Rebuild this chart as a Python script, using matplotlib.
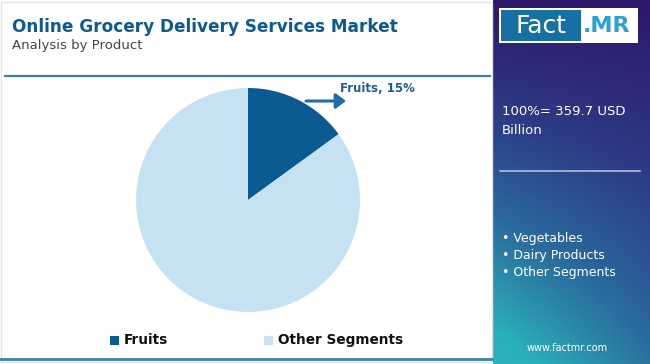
import numpy as np
import matplotlib

matplotlib.use("Agg")
import matplotlib.pyplot as plt  # noqa: E402
from matplotlib.colors import LinearSegmentedColormap  # noqa: E402
from matplotlib.patches import Rectangle, FancyArrowPatch  # noqa: E402

W, H = 650, 364

segments = ["Fruits", "Other Segments"]
shares = [15, 85]
colors = ["#0b5a92", "#c6e1f1"]
total_label = ["100%= 359.7 USD", "Billion"]
other_items = ["Vegetables", "Dairy Products", "Other Segments"]

TITLE = "Online Grocery Delivery Services Market"
SUBTITLE = "Analysis by Product"


def fx(x):
    return x / W


def fy(y):
    return 1 - y / H


fig = plt.figure(figsize=(W / 100, H / 100), dpi=100)
fig.patch.set_facecolor("white")

# right gradient panel
gax = fig.add_axes([fx(493), 0, 1 - fx(493), 1])
gx, gy = np.meshgrid(np.linspace(0, 1, 100), np.linspace(0, 1, 200))
t = np.clip(0.7 * gy + 0.4 * (1 - gx) * gy, 0, 1)
cmap = LinearSegmentedColormap.from_list(
    "fm", ["#2d186a", "#2d3a85", "#2a6c9e", "#2bb0ba"]
)
gax.imshow(t, cmap=cmap, aspect="auto", extent=[0, 1, 1, 0], vmin=0, vmax=1)
gax.set_xlim(0, 1)
gax.set_ylim(1, 0)
gax.axis("off")

# light frame of the left area
fig.add_artist(Rectangle((fx(1), fy(362)), fx(491), fy(2) - fy(362),
                         transform=fig.transFigure, fill=False,
                         edgecolor="#e4e4e4", lw=1))

fig.text(fx(12), fy(27), TITLE, fontsize=12.2, fontweight="bold",
         color="#0d5a8f", va="center", ha="left")
fig.text(fx(12), fy(46), SUBTITLE, fontsize=9.5, color="#444444",
         va="center", ha="left")

# separator lines
fig.add_artist(plt.Line2D([fx(5), fx(490)], [fy(76), fy(76)],
                          transform=fig.transFigure, color="#3b7fb5", lw=1.6))
fig.add_artist(plt.Line2D([fx(0), fx(492)], [fy(359), fy(359)],
                          transform=fig.transFigure, color="#3b7fb5", lw=2))

# pie
pax = fig.add_axes([fx(136), fy(312), fx(224), fy(88) - fy(312)])
pax.pie(shares, colors=colors, startangle=90, counterclock=False,
        wedgeprops=dict(linewidth=0))
pax.set_xlim(-1, 1)
pax.set_ylim(-1, 1)
pax.set_aspect("equal")
pax.axis("off")

fig.add_artist(FancyArrowPatch(
    (fx(306), fy(101)), (fx(346), fy(101)), transform=fig.transFigure,
    arrowstyle="-|>,head_length=6,head_width=4.5", color="#1f6ea8", lw=2.2,
    mutation_scale=1, shrinkA=0, shrinkB=0))
fig.text(fx(340), fy(89), f"{segments[0]}, {shares[0]}%", fontsize=8.5,
         fontweight="bold", color="#1d5d94", va="center", ha="left")

# legend
for (lx, name, c) in zip([110, 264], segments, colors):
    fig.add_artist(Rectangle((fx(lx), fy(345)), fx(9), fy(336) - fy(345),
                             transform=fig.transFigure, color=c, lw=0))
    fig.text(fx(lx + 14), fy(340), name, fontsize=9.8, fontweight="bold",
             color="#111111", va="center", ha="left")

# logo
fig.add_artist(Rectangle((fx(499), fy(43)), fx(139), fy(8) - fy(43),
                         transform=fig.transFigure, color="white", lw=0))
fig.add_artist(Rectangle((fx(501), fy(41)), fx(80), fy(10) - fy(41),
                         transform=fig.transFigure, color="#1670a3", lw=0))
fig.text(fx(541), fy(26), "Fact", fontsize=18, color="white",
         va="center", ha="center")
fig.text(fx(583), fy(26), ".MR", fontsize=16, fontweight="bold",
         color="#2aa1d3", va="center", ha="left")

fig.text(fx(502), fy(115), total_label[0], fontsize=9.5, color="white",
         va="baseline", ha="left")
fig.text(fx(502), fy(134), total_label[1], fontsize=9.5, color="white",
         va="baseline", ha="left")
fig.add_artist(plt.Line2D([fx(500), fx(640)], [fy(171), fy(171)],
                          transform=fig.transFigure, color="#b9b9d6", lw=1.2))
for i, item in enumerate(other_items):
    fig.text(fx(502), fy(242 + 17 * i), "\u2022 " + item, fontsize=9,
             color="white", va="baseline", ha="left")
fig.text(fx(567), fy(348), "www.factmr.com", fontsize=7, color="white",
         va="center", ha="center")

fig.savefig("out.png", dpi=100, facecolor=fig.get_facecolor())
